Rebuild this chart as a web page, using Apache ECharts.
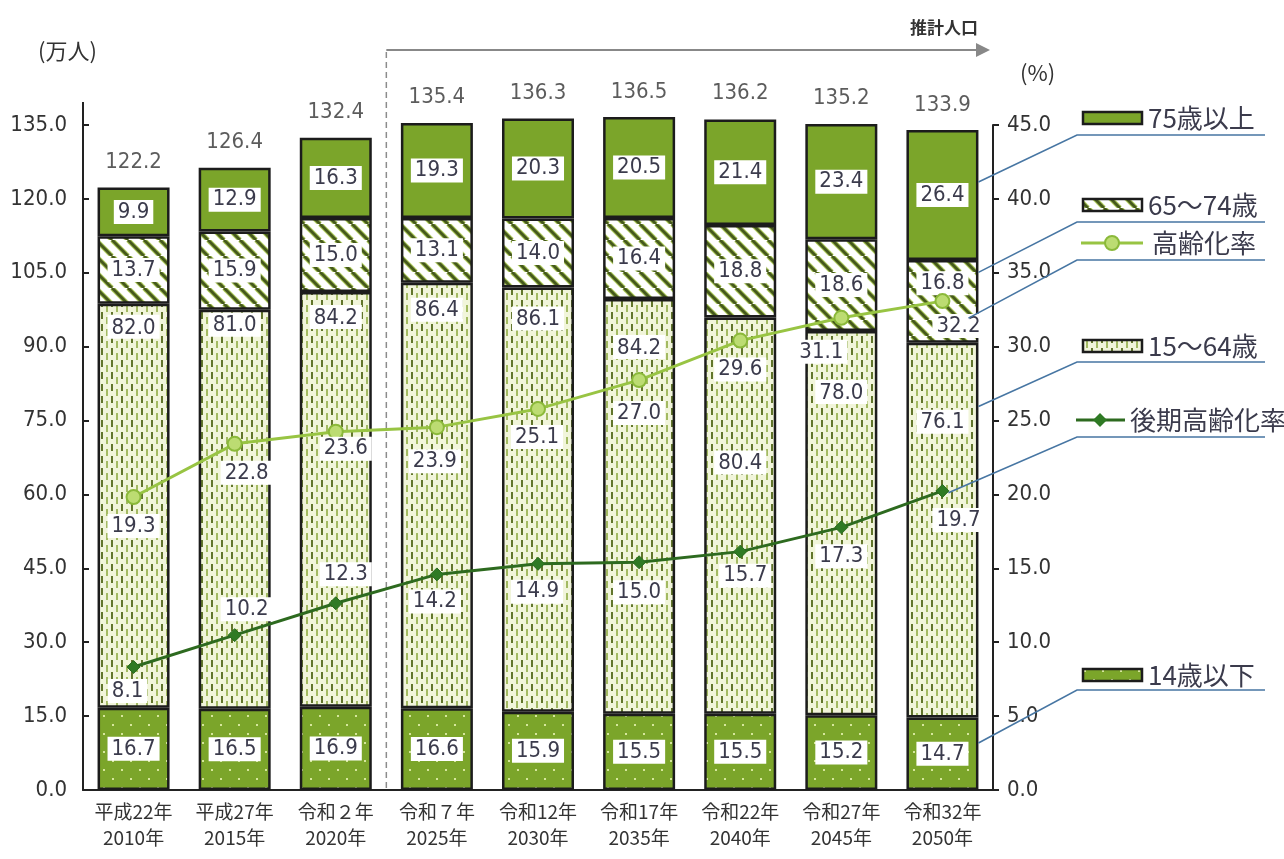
<!DOCTYPE html>
<html>
<head>
<meta charset="utf-8">
<script src="https://cdn.jsdelivr.net/npm/echarts@6/dist/echarts.min.js"></script>
<style>
  html, body { margin: 0; padding: 0; background: #fff; }
  #chart { width: 1284px; height: 859px; }
</style>
</head>
<body>
<div id="chart"></div>
<script>
// ---- data ----
const categories = ['平成22年\n2010年', '平成27年\n2015年', '令和２年\n2020年', '令和７年\n2025年', '令和12年\n2030年',
                    '令和17年\n2035年', '令和22年\n2040年', '令和27年\n2045年', '令和32年\n2050年'];
const age0to14   = [16.7, 16.5, 16.9, 16.6, 15.9, 15.5, 15.5, 15.2, 14.7];
const age15to64  = [82.0, 81.0, 84.2, 86.4, 86.1, 84.2, 80.4, 78.0, 76.1];
const age65to74  = [13.7, 15.9, 15.0, 13.1, 14.0, 16.4, 18.8, 18.6, 16.8];
const age75plus  = [9.9, 12.9, 16.3, 19.3, 20.3, 20.5, 21.4, 23.4, 26.4];
const totals     = [122.2, 126.4, 132.4, 135.4, 136.3, 136.5, 136.2, 135.2, 133.9];
const agingRate     = [19.3, 22.8, 23.6, 23.9, 25.1, 27.0, 29.6, 31.1, 32.2];
const lateAgingRate = [8.1, 10.2, 12.3, 14.2, 14.9, 15.0, 15.7, 17.3, 19.7];
const leftTicks  = [0, 15, 30, 45, 60, 75, 90, 105, 120, 135];
const rightTicks = [0, 5, 10, 15, 20, 25, 30, 35, 40, 45];

// ---- label placement tweaks (pixels) ----
const nudge15to64 = [6, -2, 8, 10, 14, 31, 128, 44, 62];
const nudge65to74 = [0, 0, 0, 0, 0, 0, 0, 0, -18];
const agingLabelOffset = [[0, 29], [12, 29], [10, 17], [-2, 34], [-1, 28], [0, 33], [0, 29], [-20, 34], [16, 25]];
const lateLabelOffset  = [[-6, 24], [12, -26], [10, -29], [-2, 27], [-1, 28], [0, 30], [5, 24], [0, 29], [16, 29]];

const NUM_FONT = '"Liberation Sans Narrow", "DejaVu Sans Condensed", "Noto Sans CJK JP", sans-serif';
const JP_FONT = '"Liberation Sans Narrow", "Noto Sans CJK JP", sans-serif';
const GREEN = '#7ba52a';
const TEXT = '#3b3b4c';
const LEADER = '#4776a3';

function makePattern(w, h, draw) {
  const c = document.createElement('canvas');
  c.width = w; c.height = h;
  draw(c.getContext('2d'), w, h);
  return { image: c, repeat: 'repeat' };
}
// green with sparse pale dots
const pat0to14 = makePattern(18, 18, (ctx, w, h) => {
  ctx.fillStyle = GREEN; ctx.fillRect(0, 0, w, h);
  ctx.fillStyle = '#d6e79c';
  ctx.fillRect(4, 4, 2, 2); ctx.fillRect(13, 13, 2, 2);
});
// pale background with vertical dashes
const pat15to64 = makePattern(10, 12, (ctx, w, h) => {
  ctx.fillStyle = '#f1f5da'; ctx.fillRect(0, 0, w, h);
  ctx.fillStyle = '#62762c'; ctx.fillRect(1, 0, 2, 7);
  ctx.fillStyle = '#a3ba62'; ctx.fillRect(6, 5, 2, 7);
});
// white with dark olive diagonal stripes
const pat65to74 = makePattern(16, 16, (ctx, w, h) => {
  ctx.fillStyle = '#ffffff'; ctx.fillRect(0, 0, w, h);
  for (const off of [-16, 0, 16]) {
    ctx.strokeStyle = '#b2cd62'; ctx.lineWidth = 5;
    ctx.beginPath(); ctx.moveTo(off, 0); ctx.lineTo(off + 16, 16); ctx.stroke();
    ctx.strokeStyle = '#465a1c'; ctx.lineWidth = 3;
    ctx.beginPath(); ctx.moveTo(off, 0); ctx.lineTo(off + 16, 16); ctx.stroke();
  }
});

const valueLabel = {
  show: true, fontFamily: NUM_FONT, fontSize: 22, color: TEXT,
  backgroundColor: '#ffffff', padding: [2, 4, 0, 4],
  formatter: p => Number(p.value).toFixed(1)
};
const barBase = {
  type: 'bar', stack: 'pop', barWidth: 72, yAxisIndex: 0, clip: false,
  itemStyle: { borderColor: '#1c1c1c', borderWidth: 2.5 },
  emphasis: { disabled: true }
};

const chart = echarts.init(document.getElementById('chart'), null, { renderer: 'canvas' });

const option = {
  animation: false,
  backgroundColor: '#ffffff',
  grid: { left: 83, right: 291, top: 125, bottom: 69 },
  xAxis: {
    type: 'category', data: categories,
    axisLine: { lineStyle: { color: '#222', width: 2 } },
    axisTick: { inside: true, length: 6, lineStyle: { color: '#222', width: 2 } },
    axisLabel: { interval: 0, fontFamily: JP_FONT, fontSize: 19, lineHeight: 26, color: '#333', margin: 9 }
  },
  yAxis: [
    {
      type: 'value', min: 0, max: 135, interval: 15, position: 'left',
      axisLine: { show: true, lineStyle: { color: '#222', width: 2 } },
      axisTick: { show: true, inside: true, length: 6, lineStyle: { color: '#222', width: 2 } },
      axisLabel: { fontFamily: NUM_FONT, fontSize: 22, color: '#333', margin: 16, formatter: v => v.toFixed(1) },
      splitLine: { show: false }
    },
    {
      type: 'value', min: 0, max: 45, interval: 5, position: 'right',
      axisLine: { show: true, lineStyle: { color: '#222', width: 2 } },
      axisTick: { show: true, inside: false, length: 6, lineStyle: { color: '#222', width: 2 } },
      axisLabel: { fontFamily: NUM_FONT, fontSize: 22, color: '#333', margin: 14, formatter: v => v.toFixed(1) },
      splitLine: { show: false }
    },
    { type: 'value', min: 0, max: 43.8, show: false, splitLine: { show: false } }
  ],
  series: [
    Object.assign({}, barBase, {
      name: '14歳以下',
      data: age0to14,
      itemStyle: Object.assign({}, barBase.itemStyle, { color: pat0to14 }),
      label: Object.assign({}, valueLabel, { position: 'inside' })
    }),
    Object.assign({}, barBase, {
      name: '15～64歳',
      data: age15to64.map((v, i) => ({ value: v, label: { offset: [0, nudge15to64[i]] } })),
      itemStyle: Object.assign({}, barBase.itemStyle, { color: pat15to64 }),
      label: Object.assign({}, valueLabel, { position: 'insideTop', distance: 5 })
    }),
    Object.assign({}, barBase, {
      name: '65～74歳',
      data: age65to74.map((v, i) => ({ value: v, label: { offset: [0, nudge65to74[i]] } })),
      itemStyle: Object.assign({}, barBase.itemStyle, { color: pat65to74 }),
      label: Object.assign({}, valueLabel, { position: 'inside' })
    }),
    Object.assign({}, barBase, {
      name: '75歳以上',
      data: age75plus,
      itemStyle: Object.assign({}, barBase.itemStyle, { color: GREEN }),
      label: Object.assign({}, valueLabel, { position: 'inside' })
    }),
    {
      // stack totals written above each bar
      type: 'scatter', name: '総数', yAxisIndex: 0, data: totals, clip: false,
      symbolSize: 1, itemStyle: { color: 'rgba(0,0,0,0)' }, silent: true,
      label: { show: true, position: 'top', distance: 14, fontFamily: NUM_FONT, fontSize: 22, color: '#333',
               formatter: p => p.value.toFixed(1) },
      labelLayout: { hideOverlap: false }
    },
    {
      type: 'line', name: '高齢化率', yAxisIndex: 2, z: 5, clip: false,
      data: agingRate.map((v, i) => ({ value: v, label: { offset: agingLabelOffset[i] } })),
      symbol: 'circle', symbolSize: 14,
      lineStyle: { color: '#98c443', width: 3 },
      itemStyle: { color: '#bcdc72', borderColor: '#8bb93a', borderWidth: 2 },
      label: Object.assign({}, valueLabel, { position: 'inside' }),
      emphasis: { disabled: true }
    },
    {
      type: 'line', name: '後期高齢化率', yAxisIndex: 2, z: 5, clip: false,
      data: lateAgingRate.map((v, i) => ({ value: v, label: { offset: lateLabelOffset[i] } })),
      symbol: 'diamond', symbolSize: 13,
      lineStyle: { color: '#2d6a1f', width: 3 },
      itemStyle: { color: '#2f7a24', borderColor: '#2a6a1e', borderWidth: 1 },
      label: Object.assign({}, valueLabel, { position: 'inside' }),
      emphasis: { disabled: true }
    }
  ]
};
chart.setOption(option);

// ---- annotations: units, projection marker, legend with leader lines ----
const lastIdx = categories.length - 1;
const cum = (arrs) => arrs.reduce((s, a) => s + a[lastIdx], 0);
const px = (value, dx) => {
  const p = chart.convertToPixel({ xAxisIndex: 0, yAxisIndex: 0 }, [lastIdx, value]);
  return [p[0] + dx, p[1]];
};
const splitX = (chart.convertToPixel({ xAxisIndex: 0 }, 2) + chart.convertToPixel({ xAxisIndex: 0 }, 3)) / 2;
const base0 = chart.convertToPixel({ yAxisIndex: 0 }, 0);
const top0 = chart.convertToPixel({ yAxisIndex: 0 }, 135);

const legendRows = [
  { name: '75歳以上', kind: 'rect', fill: GREEN, y: 118, under: 135,
    target: px(cum([age0to14, age15to64, age65to74]) + age75plus[lastIdx] * 0.6, 36) },
  { name: '65～74歳', kind: 'rect', fill: pat65to74, y: 205, under: 222,
    target: px(cum([age0to14, age15to64]) + age65to74[lastIdx] * 0.85, 36) },
  { name: '高齢化率', kind: 'circle', y: 243, under: 260,
    target: px(cum([age0to14, age15to64]) + 5, 26) },
  { name: '15～64歳', kind: 'rect', fill: pat15to64, y: 346, under: 362,
    target: px(age0to14[lastIdx] + age15to64[lastIdx] * 0.83, 36) },
  { name: '後期高齢化率', kind: 'diamond', y: 420, under: 437,
    target: px(age0to14[lastIdx] + age15to64[lastIdx] * 0.6, 6) },
  { name: '14歳以下', kind: 'rect', fill: pat0to14, y: 675, under: 690,
    target: px(age0to14[lastIdx] * 0.65, 36) }
];

const graphics = [
  { type: 'text', left: 38, top: 40, style: { text: '(万人)', font: '22px "Noto Sans CJK JP"', fill: '#333' } },
  { type: 'text', left: 1020, top: 62, style: { text: '(%)', font: '22px "Noto Sans CJK JP"', fill: '#333' } },
  // left axis runs a little above its last tick
  { type: 'line', shape: { x1: 83, y1: top0 - 23, x2: 83, y2: top0 }, style: { stroke: '#222', lineWidth: 2 } },
  // projection divider and arrow
  { type: 'line', shape: { x1: splitX, y1: 52, x2: splitX, y2: base0 }, style: { stroke: '#8c8c8c', lineWidth: 1.5, lineDash: [6, 4] } },
  { type: 'line', shape: { x1: splitX, y1: 50, x2: 978, y2: 50 }, style: { stroke: '#888', lineWidth: 2 } },
  { type: 'polygon', shape: { points: [[976, 43], [990, 50], [976, 57]] }, style: { fill: '#888' } },
  { type: 'text', x: 978, y: 28, style: { text: '推計人口', font: 'bold 17px "Noto Sans CJK JP"', fill: '#333', align: 'right', verticalAlign: 'middle' } }
];

legendRows.forEach(r => {
  graphics.push({ type: 'polyline', shape: { points: [r.target, [1077, r.under], [1265, r.under]] },
                  style: { stroke: LEADER, lineWidth: 1.6, fill: null }, z: 20 });
  let textX = 1148;
  if (r.kind === 'rect') {
    graphics.push({ type: 'rect', shape: { x: 1083, y: r.y - 6, width: 59, height: 12 },
                    style: { fill: r.fill, stroke: '#1c1c1c', lineWidth: 2.5 } });
  } else if (r.kind === 'circle') {
    graphics.push({ type: 'line', shape: { x1: 1081, y1: r.y, x2: 1143, y2: r.y }, style: { stroke: '#98c443', lineWidth: 3 } });
    graphics.push({ type: 'circle', shape: { cx: 1112, cy: r.y, r: 7 }, style: { fill: '#bcdc72', stroke: '#8bb93a', lineWidth: 2 } });
    textX = 1152;
  } else {
    graphics.push({ type: 'line', shape: { x1: 1076, y1: r.y, x2: 1125, y2: r.y }, style: { stroke: '#2d6a1f', lineWidth: 3 } });
    graphics.push({ type: 'polygon', shape: { points: [[1100, r.y - 7], [1107, r.y], [1100, r.y + 7], [1093, r.y]] }, style: { fill: '#2f7a24' } });
    textX = 1130;
  }
  graphics.push({ type: 'text', x: textX, y: r.y, style: { text: r.name, font: '26px ' + JP_FONT, fill: TEXT, verticalAlign: 'middle' } });
});

chart.setOption({ graphic: graphics });
</script>
</body>
</html>
